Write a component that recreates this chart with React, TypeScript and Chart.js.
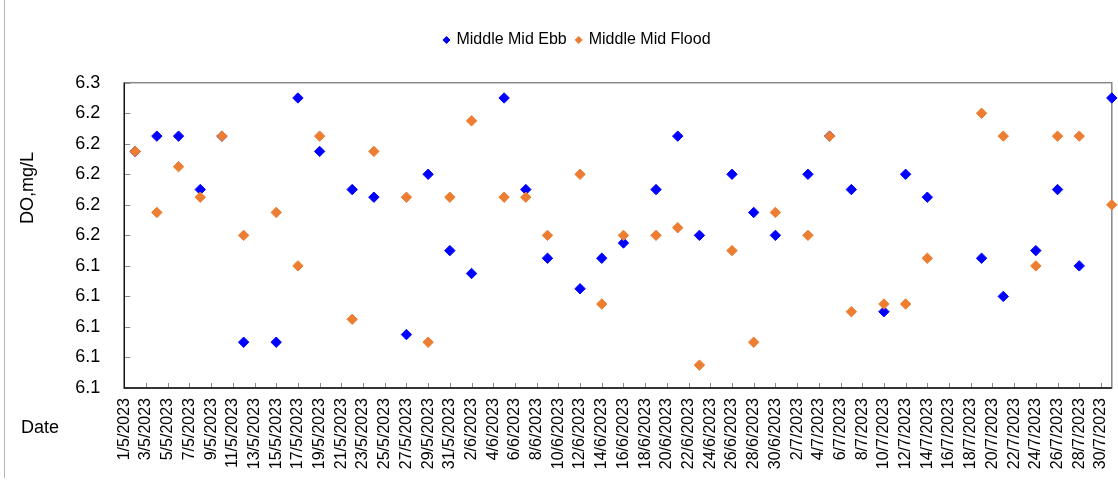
import React, { useEffect, useRef } from 'react';
import { Chart, registerables } from 'chart.js';

Chart.register(...registerables);

// ---- data ----
const sampleDates = [
  '2/5/2023', '4/5/2023', '6/5/2023', '8/5/2023', '10/5/2023', '12/5/2023', '15/5/2023',
  '17/5/2023', '19/5/2023', '22/5/2023', '24/5/2023', '27/5/2023', '29/5/2023', '31/5/2023',
  '2/6/2023', '5/6/2023', '7/6/2023', '9/6/2023', '12/6/2023', '14/6/2023', '16/6/2023',
  '19/6/2023', '21/6/2023', '23/6/2023', '26/6/2023', '28/6/2023', '30/6/2023', '3/7/2023',
  '5/7/2023', '7/7/2023', '10/7/2023', '12/7/2023', '14/7/2023', '19/7/2023', '21/7/2023',
  '24/7/2023', '26/7/2023', '28/7/2023', '31/7/2023',
];

const ebbValues = [
  6.215, 6.225, 6.225, 6.19, 6.225, 6.09, 6.09,
  6.25, 6.215, 6.19, 6.185, 6.095, 6.2, 6.15,
  6.135, 6.25, 6.19, 6.145, 6.125, 6.145, 6.155,
  6.19, 6.225, 6.16, 6.2, 6.175, 6.16, 6.2,
  6.225, 6.19, 6.11, 6.2, 6.185, 6.145, 6.12,
  6.15, 6.19, 6.14, 6.25,
];

const floodValues = [
  6.215, 6.175, 6.205, 6.185, 6.225, 6.16, 6.175,
  6.14, 6.225, 6.105, 6.215, 6.185, 6.09, 6.185,
  6.235, 6.185, 6.185, 6.16, 6.2, 6.115, 6.16,
  6.16, 6.165, 6.075, 6.15, 6.09, 6.175, 6.16,
  6.225, 6.11, 6.115, 6.115, 6.145, 6.24, 6.225,
  6.14, 6.225, 6.225, 6.18,
];

const seriesNames = ['Middle Mid Ebb', 'Middle Mid Flood'];
const axisStartDate = '1/5/2023';
const axisEndDate = '31/7/2023';
const xTickStepDays = 2;
const yMin = 6.06;
const yMax = 6.26;
const yStep = 0.02;
const yAxisTitle = 'DO,mg/L';
const xAxisTitle = 'Date';

// ---- helpers ----
const DAY_MS = 86400000;
function parseDMY(s: string): number {
  const [d, m, y] = s.split('/').map(Number);
  return Date.UTC(y, m - 1, d);
}
const startMs = parseDMY(axisStartDate);
const dayIndex = (s: string) => Math.round((parseDMY(s) - startMs) / DAY_MS);
const labelForDay = (i: number) => {
  const dt = new Date(startMs + i * DAY_MS);
  return `${dt.getUTCDate()}/${dt.getUTCMonth() + 1}/${dt.getUTCFullYear()}`;
};
const lastDay = dayIndex(axisEndDate);

const FONT = "'Liberation Sans', Arial, sans-serif";

const framePlugin = {
  id: 'frameAndTitles',
  beforeDatasetsDraw(chart: any) {
    const { ctx, chartArea: a, scales } = chart;
    ctx.save();
    // inward tick marks
    ctx.strokeStyle = '#8c8c8c';
    ctx.lineWidth = 1;
    ctx.beginPath();
    scales.y.ticks.forEach((t: any) => {
      const y = Math.round(scales.y.getPixelForValue(t.value)) + 0.5;
      ctx.moveTo(a.left, y);
      ctx.lineTo(a.left + 6, y);
    });
    scales.x.ticks.forEach((t: any) => {
      const x = Math.round(scales.x.getPixelForValue(t.value)) + 0.5;
      ctx.moveTo(x, a.bottom);
      ctx.lineTo(x, a.bottom - 5);
    });
    ctx.stroke();
    // plot frame
    ctx.strokeStyle = '#878787';
    ctx.lineWidth = 1.5;
    ctx.strokeRect(a.left, a.top, a.right - a.left, a.bottom - a.top);
    // axis lines
    ctx.strokeStyle = '#111111';
    ctx.lineWidth = 1.3;
    ctx.beginPath();
    ctx.moveTo(a.left, a.top);
    ctx.lineTo(a.left, a.bottom);
    ctx.lineTo(a.right, a.bottom);
    ctx.stroke();
    ctx.restore();
  },
  afterDraw(chart: any) {
    const { ctx } = chart;
    ctx.save();
    // outer chart border (left edge)
    ctx.strokeStyle = '#b4b4b4';
    ctx.lineWidth = 1;
    ctx.beginPath();
    ctx.moveTo(4.5, 0);
    ctx.lineTo(4.5, 478);
    ctx.stroke();
    // axis titles
    ctx.fillStyle = '#000000';
    ctx.font = `18px ${FONT}`;
    ctx.textAlign = 'center';
    ctx.textBaseline = 'middle';
    ctx.fillText(xAxisTitle, 40, 428);
    ctx.translate(28, 188);
    ctx.rotate(-Math.PI / 2);
    ctx.fillText(yAxisTitle, 0, 0);
    ctx.restore();
  },
};

export default function App() {
  const canvasRef = useRef<HTMLCanvasElement | null>(null);

  useEffect(() => {
    document.body.style.margin = '0';
    const canvas = canvasRef.current;
    if (!canvas) return;
    const xs = sampleDates.map(dayIndex);
    const chart = new Chart(canvas, {
      type: 'scatter',
      data: {
        datasets: [
          {
            label: seriesNames[0],
            data: xs.map((x, i) => ({ x, y: ebbValues[i] })),
            backgroundColor: '#0000FF',
            borderColor: '#0000FF',
            pointStyle: 'rectRot',
            pointRadius: 5.2,
            pointBorderWidth: 1,
            order: 2,
            clip: false as any,
          },
          {
            label: seriesNames[1],
            data: xs.map((x, i) => ({ x, y: floodValues[i] })),
            backgroundColor: '#ED7D31',
            borderColor: '#ED7D31',
            pointStyle: 'rectRot',
            pointRadius: 5.2,
            pointBorderWidth: 1,
            order: 1,
            clip: false as any,
          },
        ],
      },
      options: {
        responsive: false,
        animation: false,
        devicePixelRatio: 1,
        layout: { padding: { top: 22, left: 40, right: 3, bottom: 0 } },
        plugins: {
          tooltip: { enabled: false },
          title: {
            display: true,
            text: '',
            weight: 500,
            font: { size: 10, lineHeight: 1 },
            padding: { top: 0, bottom: 14.7 },
          } as any,
          legend: {
            display: true,
            position: 'top',
            labels: {
              usePointStyle: true,
              pointStyle: 'rectRot',
              boxWidth: 4,
              boxHeight: 5,
              padding: 10,
              color: '#000000',
              font: { family: FONT, size: 16 },
              sort: (a: any, b: any) => a.datasetIndex - b.datasetIndex,
            },
          },
        },
        scales: {
          x: {
            type: 'linear',
            min: 0,
            max: lastDay,
            grid: { display: false },
            border: { display: false },
            afterFit: (scale: any) => {
              scale.height = 105;
              scale.paddingLeft = 0;
              scale.paddingRight = 0;
            },
            ticks: {
              stepSize: xTickStepDays,
              includeBounds: false,
              autoSkip: false,
              minRotation: 90,
              maxRotation: 90,
              padding: 2,
              color: '#000000',
              font: { family: FONT, size: 16 },
              callback: (v: any) => labelForDay(Number(v)),
            },
          },
          y: {
            type: 'linear',
            min: yMin,
            max: yMax,
            grid: { display: false },
            border: { display: false },
            afterFit: (scale: any) => {
              scale.width = 84.3;
              scale.paddingTop = 0;
              scale.paddingBottom = 0;
            },
            ticks: {
              stepSize: yStep,
              padding: 16,
              color: '#000000',
              font: { family: FONT, size: 18 },
              callback: (v: any) => Number(v).toFixed(1),
            },
          },
        },
      },
      plugins: [framePlugin],
    });
    return () => chart.destroy();
  }, []);

  return (
    <canvas
      ref={canvasRef}
      width={1118}
      height={493}
      style={{ display: 'block', width: 1118, height: 493 }}
    />
  );
}
